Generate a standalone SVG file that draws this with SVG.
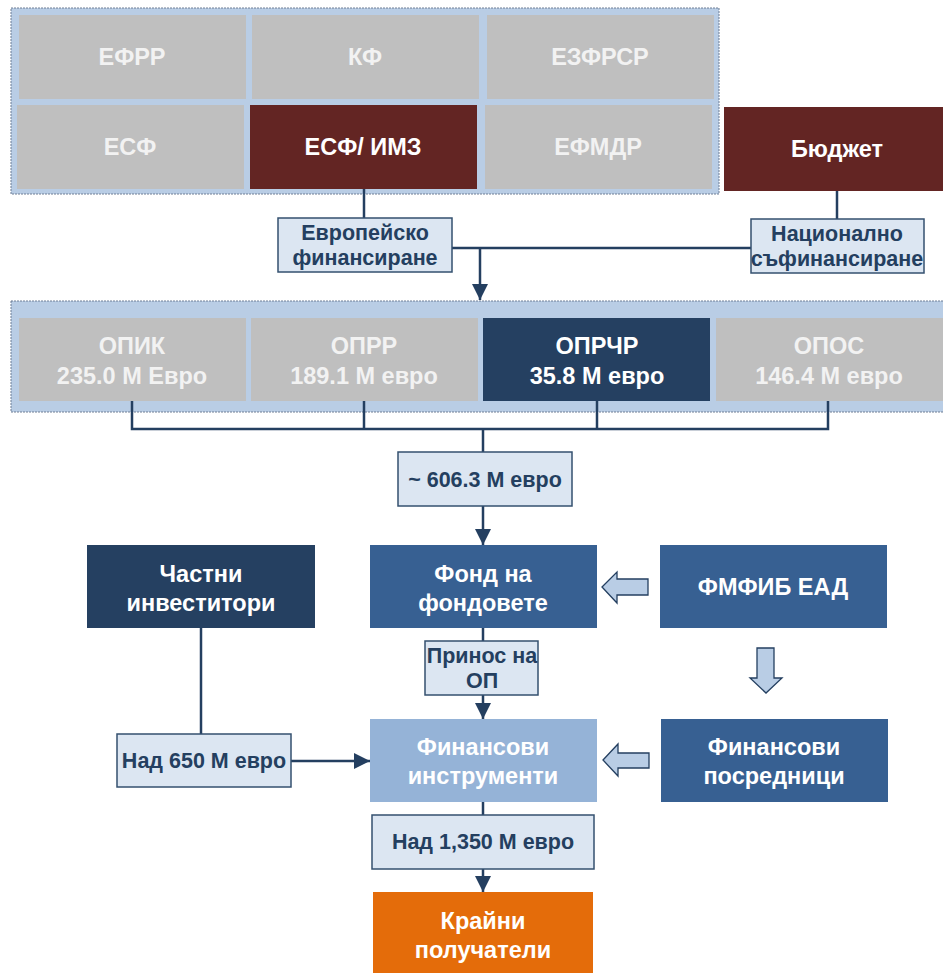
<svg xmlns="http://www.w3.org/2000/svg" width="943" height="973" viewBox="0 0 943 973">
<defs>
<style>
text{font-family:"Liberation Sans",Arial,sans-serif;font-weight:bold;text-anchor:middle}
.panel{fill:#b9cde5;stroke:#6f7f96;stroke-width:1;stroke-dasharray:2 1}
.grey{fill:#bfbfbf}
.grey-t{fill:#f2f2f2;font-size:23.5px}
.red{fill:#632523}
.navy{fill:#254061}
.blue{fill:#376092}
.light{fill:#95b3d7}
.orange{fill:#e46c0a}
.wt{fill:#ffffff;font-size:23.5px}
.lbl{fill:#dce6f2;stroke:#34506f;stroke-width:1.5}
.lt{fill:#243f60;font-size:21.5px}
.conn{fill:none;stroke:#243f60;stroke-width:2.5}
.barrow{fill:#b9cde5;stroke:#243f60;stroke-width:1.3}
</style>
<marker id="ah" markerUnits="userSpaceOnUse" markerWidth="17" markerHeight="16" refX="16" refY="8" orient="auto">
<path d="M0,0 L16,8 L0,16 z" fill="#243f60"/>
</marker>
</defs>

<rect class="panel" x="11" y="8" width="708" height="186"/>
<rect class="panel" x="11" y="301" width="940" height="111"/>

<g id="efrr"><rect class="grey" x="19" y="15" width="227" height="84"/><text class="grey-t" x="132" y="65">ЕФРР</text></g>
<g id="kf"><rect class="grey" x="252" y="15" width="227" height="84"/><text class="grey-t" x="365" y="65">КФ</text></g>
<g id="ezfrsr"><rect class="grey" x="487" y="15" width="227" height="84"/><text class="grey-t" x="600" y="65">ЕЗФРСР</text></g>
<g id="esf"><rect class="grey" x="17" y="105" width="227" height="84"/><text class="grey-t" x="130" y="155">ЕСФ</text></g>
<g id="esf-imz"><rect class="red" x="250" y="105" width="227" height="84"/><text class="wt" x="363" y="155">ЕСФ/ ИМЗ</text></g>
<g id="efmdr"><rect class="grey" x="485" y="105" width="227" height="84"/><text class="grey-t" x="598" y="155">ЕФМДР</text></g>
<g id="budget"><rect class="red" x="724" y="107" width="219" height="84"/><text class="wt" x="837" y="157">Бюджет</text></g>

<g id="opik"><rect class="grey" x="19" y="318" width="227" height="83"/><text class="grey-t" x="132" y="354">ОПИК</text><text class="grey-t" x="132" y="384">235.0 M Евро</text></g>
<g id="oprr"><rect class="grey" x="251" y="318" width="227" height="83"/><text class="grey-t" x="364" y="354">ОПРР</text><text class="grey-t" x="364" y="384">189.1 M евро</text></g>
<g id="oprchr"><rect class="navy" x="483" y="318" width="227" height="83"/><text class="wt" x="597" y="354">ОПРЧР</text><text class="wt" x="597" y="384">35.8 M евро</text></g>
<g id="opos"><rect class="grey" x="716" y="318" width="227" height="83"/><text class="grey-t" x="829" y="354">ОПОС</text><text class="grey-t" x="829" y="384">146.4 M евро</text></g>

<g id="chastni"><rect class="navy" x="87" y="545" width="228" height="83"/><text class="wt" x="201" y="582">Частни</text><text class="wt" x="201" y="611">инвеститори</text></g>
<g id="fond"><rect class="blue" x="370" y="545" width="227" height="83"/><text class="wt" x="483" y="582">Фонд на</text><text class="wt" x="483" y="611">фондовете</text></g>
<g id="fmfib"><rect class="blue" x="660" y="545" width="227" height="83"/><text class="wt" x="773" y="595">ФМФИБ ЕАД</text></g>
<g id="fin-instr"><rect class="light" x="370" y="719" width="227" height="83"/><text class="wt" x="483" y="755">Финансови</text><text class="wt" x="483" y="784">инструменти</text></g>
<g id="fin-posr"><rect class="blue" x="661" y="719" width="227" height="83"/><text class="wt" x="774" y="755">Финансови</text><text class="wt" x="774" y="784">посредници</text></g>
<g id="krajni"><rect class="orange" x="373" y="892" width="220" height="81"/><text class="wt" x="483" y="929">Крайни</text><text class="wt" x="483" y="958">получатели</text></g>

<g id="connectors">
<path class="conn" d="M364,189 V218"/>
<path class="conn" d="M837,191 V219"/>
<path class="conn" d="M452,248 H751"/>
<path class="conn" d="M480,248 V300" marker-end="url(#ah)"/>
<path class="conn" d="M132,401 V429 H828 V401"/>
<path class="conn" d="M364,401 V429"/>
<path class="conn" d="M597,401 V429"/>
<path class="conn" d="M483,429 V452"/>
<path class="conn" d="M483,506 V545" marker-end="url(#ah)"/>
<path class="conn" d="M483,628 V641"/>
<path class="conn" d="M483,695 V719" marker-end="url(#ah)"/>
<path class="conn" d="M201,628 V734"/>
<path class="conn" d="M291,761 H370" marker-end="url(#ah)"/>
<path class="conn" d="M483,802 V815"/>
<path class="conn" d="M483,869 V892" marker-end="url(#ah)"/>
<path class="barrow" d="M602,587 L617,572 L617,579 L648,579 L648,595 L617,595 L617,603 Z"/>
<path class="barrow" d="M603,760 L618,744 L618,753 L649,753 L649,768 L618,768 L618,776 Z"/>
<path class="barrow" d="M757,648 H774 V678 H782 L766,693 L750,678 H757 Z"/>
</g>

<g id="lbl-eu"><rect class="lbl" x="278" y="218" width="174" height="54"/><text class="lt" x="365" y="240">Европейско</text><text class="lt" x="365" y="265">финансиране</text></g>
<g id="lbl-nat"><rect class="lbl" x="751" y="219" width="173" height="54"/><text class="lt" x="837" y="241">Национално</text><text class="lt" x="837" y="266">съфинансиране</text></g>
<g id="lbl-606"><rect class="lbl" x="398" y="452" width="174" height="54"/><text class="lt" x="485" y="487">~ 606.3 M евро</text></g>
<g id="lbl-prinos"><rect class="lbl" x="425" y="641" width="113" height="54"/><text class="lt" x="482" y="663">Принос на</text><text class="lt" x="482" y="688">ОП</text></g>
<g id="lbl-650"><rect class="lbl" x="117" y="734" width="174" height="53"/><text class="lt" x="204" y="768">Над 650 M евро</text></g>
<g id="lbl-1350"><rect class="lbl" x="372" y="815" width="222" height="54"/><text class="lt" x="483" y="849" font-size="20.5">Над 1,350 M евро</text></g>
</svg>
